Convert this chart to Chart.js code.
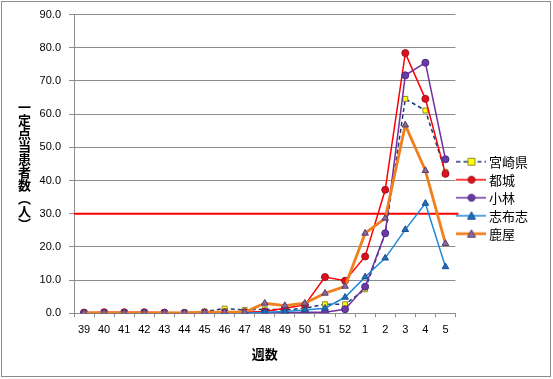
<!DOCTYPE html>
<html><head><meta charset="utf-8">
<script src="https://cdn.jsdelivr.net/npm/chart.js@4/dist/chart.umd.min.js"></script>
<style>
html,body{margin:0;padding:0;background:#fff;}
#wrap{position:relative;width:553px;height:379px;}
#frame{position:absolute;left:1px;top:1px;width:548px;height:374px;border:1px solid #8c8c8c;pointer-events:none;}
#ytitle{position:absolute;left:16px;top:101px;writing-mode:vertical-rl;font:bold 13px "Noto Sans CJK JP";color:#000;letter-spacing:0px;line-height:16px;}
canvas{position:absolute;left:0;top:0;}
</style></head><body>
<div id="wrap"><canvas id="c" width="553" height="379"></canvas><div id="frame"></div><div id="ytitle">一定点当患者数（人）</div></div>
<script>
const weeks = ['39','40','41','42','43','44','45','46','47','48','49','50','51','52','1','2','3','4','5'];
const miyazaki = [0.1,0.1,0.1,0.1,0.1,0.1,0.5,1.4,1.0,1.2,1.0,1.5,2.7,2.7,7.2,24.0,64.6,61.1,42.6];
const miyakonojo = [0.2,0.3,0.3,0.3,0.2,0.1,0.2,0.3,0.3,0.5,1.5,2.5,10.9,9.8,17.1,37.2,78.4,64.6,42.0];
const kobayashi = [0.0,0.0,0.0,0.0,0.0,0.0,0.0,0.0,0.0,0.1,0.1,0.3,0.3,1.2,8.0,24.1,71.7,75.5,46.4];
const shibushi = [0.0,0.0,0.0,0.0,0.0,0.0,0.0,0.0,0.0,0.3,0.5,1.0,1.5,4.8,10.9,16.6,25.2,33.1,14.0];
const kanoya = [0.1,0.1,0.1,0.1,0.1,0.1,0.3,0.3,0.3,3.0,2.3,3.0,6.0,8.1,24.1,28.6,56.7,43.0,21.0];
const seriesNames = ['宮崎県','都城','小林','志布志','鹿屋'];
const threshold = 30;

function legendIcon(lineColor, lineWidth, dash, shape, fill, stroke){
  const c = document.createElement('canvas'); c.width = 30; c.height = 10;
  const x = c.getContext('2d');
  x.strokeStyle = lineColor; x.lineWidth = lineWidth; x.setLineDash(dash);
  x.beginPath(); x.moveTo(0,5); x.lineTo(30,5); x.stroke();
  x.setLineDash([]); x.fillStyle = fill; x.strokeStyle = stroke; x.lineWidth = 1;
  x.beginPath();
  if(shape==='rect'){ x.rect(11.5,1.5,7,7); }
  else if(shape==='circle'){ x.arc(15,5,3.5,0,Math.PI*2); }
  else { x.moveTo(15,1); x.lineTo(19,8.5); x.lineTo(11,8.5); x.closePath(); }
  x.fill(); x.stroke();
  return c;
}

const styles = [
  {data:miyazaki, color:'#1F3A6E', width:1.5, dash:[4,3], shape:'rect', fill:'#FFFF00', stroke:'#8C8C3C', r:3.5, order:5},
  {data:miyakonojo, color:'#FF0000', width:1.5, dash:[], shape:'circle', fill:'#E0101A', stroke:'#A01020', r:3.5, order:4},
  {data:kobayashi, color:'#7030A0', width:1.5, dash:[], shape:'circle', fill:'#6A3AA8', stroke:'#4A2A80', r:3.5, order:3},
  {data:shibushi, color:'#1E88D8', width:1.5, dash:[], shape:'triangle', fill:'#1E6EB8', stroke:'#1A4E90', r:3.8, order:2},
  {data:kanoya, color:'#F07F1E', width:2.8, dash:[], shape:'triangle', fill:'#8A6A9A', stroke:'#5A3A6A', r:3.8, order:1}
];

const datasets = styles.map((s,i)=>({
  label: seriesNames[i], data: s.data,
  borderColor: s.color, borderWidth: s.width, borderDash: s.dash,
  pointStyle: s.shape, pointRadius: s.r, pointBackgroundColor: s.fill, pointBorderColor: s.stroke, pointBorderWidth: 1,
  tension: 0, order: s.order,
  legendIcon: legendIcon(s.color, s.width, s.dash, s.shape, s.fill, s.stroke)
}));

const refLine = {
  id:'refLine',
  beforeDatasetsDraw(chart){
    const y = chart.scales.y.getPixelForValue(threshold);
    const a = chart.chartArea, ctx = chart.ctx;
    ctx.save(); ctx.strokeStyle='#FF0000'; ctx.lineWidth=2;
    ctx.beginPath(); ctx.moveTo(a.left, y); ctx.lineTo(a.right+3, y); ctx.stroke(); ctx.restore();
  }
};

new Chart(document.getElementById('c'), {
  type:'line',
  data:{labels:weeks, datasets},
  options:{
    responsive:false, animation:false,
    layout:{padding:{left:2, top:13, right:15, bottom:13}},
    plugins:{
      legend:{position:'right', align:'center',
        title:{display:true, text:'', font:{size:12}, padding:{top:1,bottom:1}},
        labels:{usePointStyle:true, pointStyleWidth:22, padding:5, color:'#000',
          font:{family:'"Noto Sans CJK JP"', size:13},
          sort:(a,b)=>a.datasetIndex-b.datasetIndex,
          generateLabels(chart){
            return chart.data.datasets.map((d,i)=>({text:d.label, pointStyle:d.legendIcon, datasetIndex:i, fillStyle:'#fff', strokeStyle:'#fff', lineWidth:0, fontColor:'#000', hidden:false}));
          }}},
      tooltip:{enabled:false}
    },
    scales:{
      x:{
        offset:true,
        grid:{offset:true, drawOnChartArea:false, drawTicks:true, tickLength:4, color:'#8c8c8c'},
        border:{color:'#8c8c8c'},
        ticks:{color:'#000', font:{family:'"Liberation Sans"', size:11}, maxRotation:0, autoSkip:false, padding:6},
        title:{display:true, text:'週数', color:'#000', font:{family:'"Noto Sans CJK JP"', size:13, weight:'bold'}, padding:{top:4}}
      },
      y:{
        min:0, max:90,
        afterFit(s){ s.width = 72; },
        grid:{color:'#8c8c8c', tickLength:5},
        border:{color:'#8c8c8c'},
        ticks:{stepSize:10, color:'#000', font:{family:'"Liberation Sans"', size:11}, padding:8, callback:v=>v.toFixed(1)}
      }
    }
  },
  plugins:[refLine]
});
</script>
</body></html>
